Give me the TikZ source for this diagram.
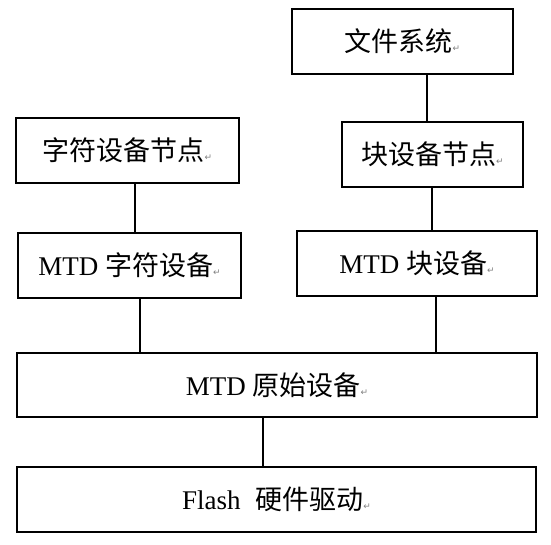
\documentclass[tikz,border=0pt]{standalone}
\usepackage{fontspec}
\setmainfont{Liberation Serif}
\newfontfamily\cjk{Noto Sans CJK SC}
\newfontfamily\symfont{DejaVu Sans}
\newcommand\retmark{\textcolor{gray}{\symfont\fontsize{9}{9}\selectfont ↵}}
\begin{document}
\begin{tikzpicture}[x=1pt,y=-1pt,
  box/.style={draw, line width=2pt, inner sep=0pt, minimum height=65pt,
    font=\fontsize{27}{30}\selectfont},
  link/.style={draw, line width=1.8pt}]
\useasboundingbox (0,0) rectangle (551,545);
\node[box, minimum width=221pt] (fs) at (402.5,41.5) {\cjk 文件系统\retmark};
\node[box, minimum width=223pt] (cnode) at (127.5,150.5) {\cjk 字符设备节点\retmark};
\node[box, minimum width=181pt] (bnode) at (432.5,154.5) {\cjk 块设备节点\retmark};
\node[box, minimum width=223pt] (mtdc) at (129.5,265.5) {MTD {\cjk 字符设备}\retmark};
\node[box, minimum width=240pt] (mtdb) at (417,263.5) {MTD {\cjk 块设备}\retmark};
\node[box, minimum width=520pt, minimum height=64pt] (mtdr) at (277,385) {MTD {\cjk 原始设备}\retmark};
\node[box, minimum width=519pt] (flash) at (276.5,499.5) {Flash\hspace{0.55em}{\cjk 硬件驱动}\retmark};
\coordinate (x1) at (427,0);
\coordinate (x2) at (135,0);
\coordinate (x3) at (432,0);
\coordinate (x4) at (140,0);
\coordinate (x5) at (436,0);
\coordinate (x6) at (263,0);
\draw[link] (fs.south -| x1) -- (bnode.north -| x1);
\draw[link] (cnode.south -| x2) -- (mtdc.north -| x2);
\draw[link] (bnode.south -| x3) -- (mtdb.north -| x3);
\draw[link] (mtdc.south -| x4) -- (mtdr.north -| x4);
\draw[link] (mtdb.south -| x5) -- (mtdr.north -| x5);
\draw[link] (mtdr.south -| x6) -- (flash.north -| x6);
\end{tikzpicture}
\end{document}
